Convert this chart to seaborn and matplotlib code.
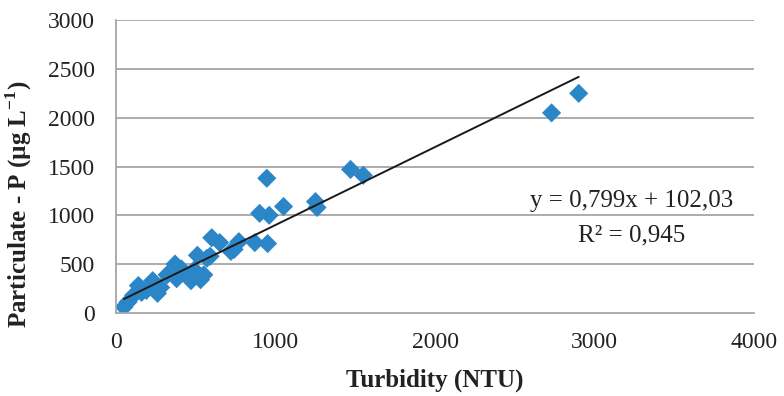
import numpy as np
import pandas as pd
import matplotlib
matplotlib.use("Agg")
import matplotlib.pyplot as plt
import seaborn as sns

# Turbidity (NTU) vs particulate P (ug/L)
turbidity = [50, 75, 110, 140, 160, 190, 230, 260, 280, 320,
             370, 380, 410, 440, 470, 490, 510, 530, 550, 570,
             590, 600, 650, 720, 740, 770, 870, 900, 945, 950,
             960, 1050, 1250, 1260, 1470, 1550, 2730, 2900]
particulate_p = [60, 110, 180, 280, 210, 230, 330, 200, 260, 390,
                 500, 350, 450, 390, 330, 440, 590, 340, 390, 560,
                 580, 770, 720, 630, 650, 730, 720, 1020, 1380, 710,
                 1000, 1090, 1140, 1080, 1470, 1410, 2050, 2250]

# trend line as printed on the chart
slope = 0.799
intercept = 102.03
r_squared = 0.945

x_ticks = [0, 1000, 2000, 3000, 4000]
y_ticks = [0, 500, 1000, 1500, 2000, 2500, 3000]


def main():
    sns.set_style("white")
    plt.rcParams["font.family"] = ["Liberation Serif", "DejaVu Serif"]
    plt.rcParams["mathtext.fontset"] = "custom"
    plt.rcParams["mathtext.rm"] = "Liberation Serif"
    plt.rcParams["mathtext.bf"] = "Liberation Serif:bold"

    df = pd.DataFrame({"turbidity": turbidity, "p": particulate_p})

    fig = plt.figure(figsize=(7.84, 3.96), dpi=100)
    ax = fig.add_axes([0.148, 0.21, 0.814, 0.739])

    # horizontal grid
    for yv in y_ticks[1:]:
        ax.axhline(yv, color="#a6a6a6", lw=1.3, zorder=0)

    sns.scatterplot(data=df, x="turbidity", y="p", marker="D", s=95,
                    color="#2b86c8", edgecolor="none", ax=ax, zorder=2)

    # linear trend over data range
    xs = np.array([min(turbidity), max(turbidity)])
    trend = pd.DataFrame({"x": xs, "y": slope * xs + intercept})
    sns.lineplot(data=trend, x="x", y="y", color="#1a1a1a", lw=1.4, ax=ax, zorder=3)

    ax.set_xlim(0, 4000)
    ax.set_ylim(0, 3000)
    ax.set_xticks(x_ticks)
    ax.set_yticks(y_ticks)
    ax.tick_params(axis="both", labelsize=17, colors="#a6a6a6", labelcolor="#222222",
                   direction="out", length=6, width=1.3)
    ax.tick_params(axis="y", pad=9)
    ax.tick_params(axis="x", pad=8)

    for side in ["top", "right"]:
        ax.spines[side].set_visible(False)
    for side in ["left", "bottom"]:
        ax.spines[side].set_color("#a6a6a6")
        ax.spines[side].set_linewidth(1.3)

    ax.set_xlabel("Turbidity (NTU)", fontsize=18, fontweight="bold", color="#222222", labelpad=11)
    ax.set_ylabel(r"Particulate - P (µg L$^{\mathbf{-1}}$)", fontsize=18, fontweight="bold",
                  color="#222222")
    ax.yaxis.set_label_coords(-0.128, 0.37)

    ax.text(3230, 1150, f"y = {slope:.3f}x + {intercept:.2f}".replace(".", ","),
            fontsize=18, ha="center", va="center", color="#222222")
    ax.text(3230, 790, f"R² = {r_squared:.3f}".replace(".", ","),
            fontsize=18, ha="center", va="center", color="#222222")

    fig.savefig("out.png", dpi=100)


if __name__ == "__main__":
    main()
